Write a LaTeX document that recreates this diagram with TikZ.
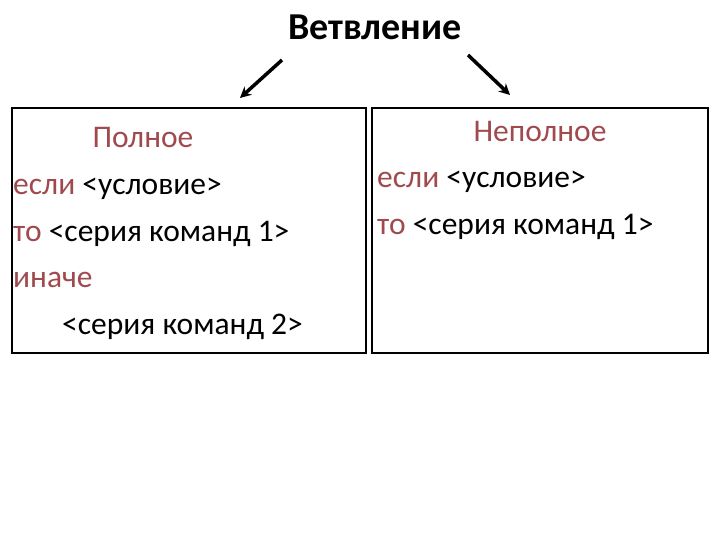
\documentclass[tikz,border=0pt]{standalone}
\usepackage{fontspec}
\setmainfont{Carlito}
\usetikzlibrary{arrows.meta}
\definecolor{kw}{HTML}{A04A4E}
\begin{document}
\begin{tikzpicture}[x=1pt,y=-1pt,
  txt/.style={anchor=base west,inner sep=0pt,font=\fontsize{31.5}{36}\selectfont},
  box/.style={draw,line width=1.8pt},
  arr/.style={line width=3.5pt,-{Stealth[length=11pt,width=11pt]}}]
\useasboundingbox (0,0) rectangle (720,540);
\node[font=\bfseries\fontsize{38}{44}\selectfont,inner sep=0pt,anchor=base] (title) at (375,40) {Ветвление};
\draw[box] (12,108) rectangle (366,353) coordinate (lb);
\draw[box] (372,108) rectangle (708,353) coordinate (rb);
\coordinate (a1s) at (282,60); \coordinate (a1e) at (240,98);
\coordinate (a2s) at (468,55); \coordinate (a2e) at (510,95);
\draw[arr] (a1s) -- (a1e);
\draw[arr] (a2s) -- (a2e);
\node[txt,text=kw,anchor=base] (l1) at (143,148) {Полное};
\node[txt] (l2) at (13,195) {\textcolor{kw}{если} <условие>};
\node[txt] (l3) at (13,241) {\textcolor{kw}{то} <серия команд 1>};
\node[txt,text=kw] (l4) at (13,287) {иначе};
\node[txt] (l5) at (62,334) {<серия команд 2>};
\node[txt,text=kw,anchor=base] (r1) at (540,142) {Неполное};
\node[txt] (r2) at (377,188) {\textcolor{kw}{если} <условие>};
\node[txt] (r3) at (377,234) {\textcolor{kw}{то} <серия команд 1>};
\end{tikzpicture}
\end{document}
